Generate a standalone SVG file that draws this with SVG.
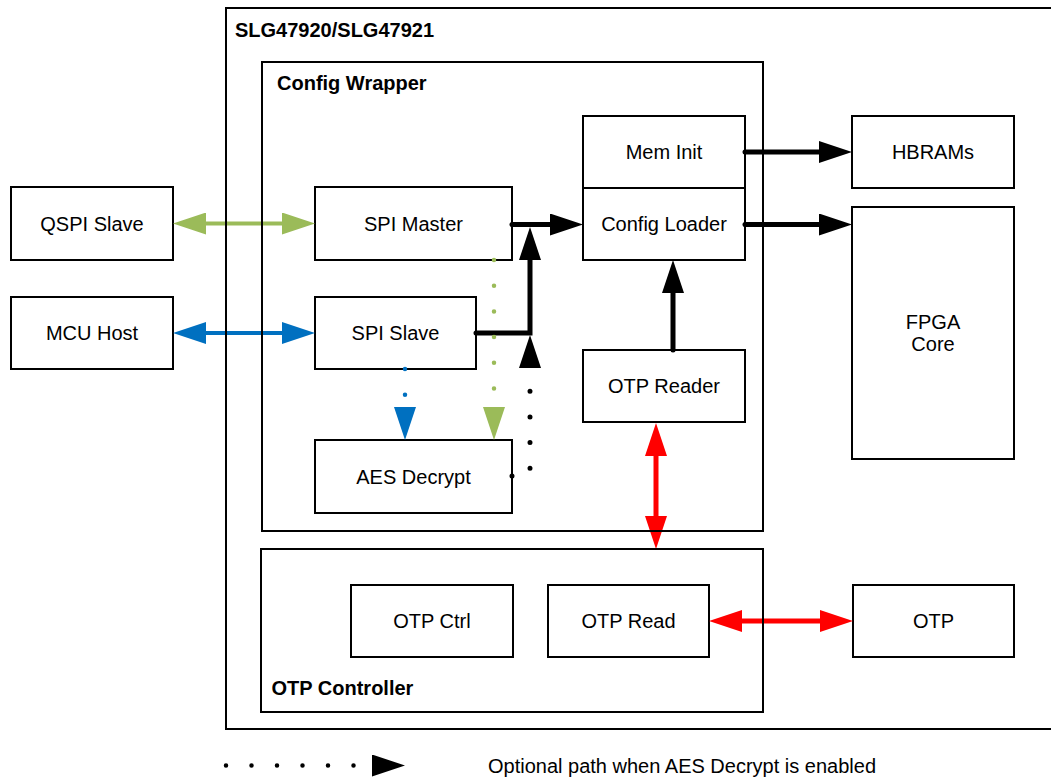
<svg xmlns="http://www.w3.org/2000/svg" width="1051" height="778" viewBox="0 0 1051 778">
<style>
.box{fill:#fff;stroke:#000;stroke-width:2}
.frame{fill:none;stroke:#000;stroke-width:2}
.t{font-family:"Liberation Sans",Arial,sans-serif;font-size:20px;fill:#000;text-anchor:middle}
.b{font-family:"Liberation Sans",Arial,sans-serif;font-size:20px;font-weight:bold;fill:#000}
.lt{font-family:"Liberation Sans",Arial,sans-serif;font-size:20px;fill:#000}
.k{fill:none;stroke:#000;stroke-width:5;stroke-linecap:round;stroke-linejoin:miter}
.kd{fill:none;stroke:#000;stroke-width:5;stroke-linecap:round;stroke-dasharray:0 25.7}
.g{fill:none;stroke:#9BBB59;stroke-width:4}
.gd{fill:none;stroke:#9BBB59;stroke-width:4.5;stroke-linecap:round;stroke-dasharray:0 25.7}
.u{fill:none;stroke:#0070C0;stroke-width:4}
.ud{fill:none;stroke:#0070C0;stroke-width:4.5;stroke-linecap:round;stroke-dasharray:0 25.7}
.r{fill:none;stroke:#FF0000;stroke-width:5}
</style>
<defs>
<marker id="ak" markerUnits="userSpaceOnUse" viewBox="0 0 33 22" markerWidth="33" markerHeight="22" refX="5" refY="11" orient="auto-start-reverse"><path d="M0,0 L33,11 L0,22 Z" fill="#000"/></marker>
<marker id="ag" markerUnits="userSpaceOnUse" viewBox="0 0 33 22" markerWidth="33" markerHeight="22" refX="5" refY="11" orient="auto-start-reverse"><path d="M0,0 L33,11 L0,22 Z" fill="#9BBB59"/></marker>
<marker id="au" markerUnits="userSpaceOnUse" viewBox="0 0 33 22" markerWidth="33" markerHeight="22" refX="5" refY="11" orient="auto-start-reverse"><path d="M0,0 L33,11 L0,22 Z" fill="#0070C0"/></marker>
<marker id="ar" markerUnits="userSpaceOnUse" viewBox="0 0 33 22" markerWidth="33" markerHeight="22" refX="5" refY="11" orient="auto-start-reverse"><path d="M0,0 L33,11 L0,22 Z" fill="#FF0000"/></marker>
</defs>
<rect width="1051" height="778" fill="#fff"/>

<g id="qspi-slave"><rect class="box" x="11" y="187" width="162" height="73"/><text class="t" x="92" y="230.5">QSPI Slave</text></g>
<g id="mcu-host"><rect class="box" x="11" y="297" width="162" height="72"/><text class="t" x="92" y="340">MCU Host</text></g>
<g id="spi-master"><rect class="box" x="315" y="187" width="197" height="73"/><text class="t" x="413.5" y="230.5">SPI Master</text></g>
<g id="spi-slave"><rect class="box" x="315" y="297" width="161" height="72"/><text class="t" x="395.5" y="340">SPI Slave</text></g>
<g id="aes-decrypt"><rect class="box" x="315" y="440" width="197" height="73"/><text class="t" x="413.5" y="483.5">AES Decrypt</text></g>
<g id="mem-init"><rect class="box" x="583" y="116" width="162" height="72"/><text class="t" x="664" y="158.5">Mem Init</text></g>
<g id="config-loader"><rect class="box" x="583" y="188" width="162" height="72"/><text class="t" x="664" y="230.5">Config Loader</text></g>
<g id="otp-reader"><rect class="box" x="583" y="350" width="162" height="72"/><text class="t" x="664" y="393">OTP Reader</text></g>
<g id="hbrams"><rect class="box" x="852" y="116" width="162" height="72"/><text class="t" x="933" y="158.5">HBRAMs</text></g>
<g id="fpga-core"><rect class="box" x="852" y="207" width="162" height="252"/><text class="t" x="933" y="328.5">FPGA</text><text class="t" x="933" y="350.5">Core</text></g>
<g id="otp-ctrl"><rect class="box" x="351" y="585" width="162" height="72"/><text class="t" x="432" y="628">OTP Ctrl</text></g>
<g id="otp-read"><rect class="box" x="548" y="585" width="161" height="72"/><text class="t" x="628.5" y="628">OTP Read</text></g>
<g id="otp"><rect class="box" x="853" y="585" width="161" height="72"/><text class="t" x="933.5" y="628">OTP</text></g>

<g id="connectors">
<path class="g" d="M201,223.5 H287" marker-start="url(#ag)" marker-end="url(#ag)"/>
<path class="u" d="M201,333 H287" marker-start="url(#au)" marker-end="url(#au)"/>
<path class="k" d="M512,224.5 H555" marker-end="url(#ak)"/>
<path class="k" d="M476,333 H530 V255" marker-end="url(#ak)"/>
<path class="kd" d="M512,476 H530 V363" marker-end="url(#ak)"/>
<path class="gd" d="M494,260 V412" marker-end="url(#ag)"/>
<path class="ud" d="M405,369 V412" marker-end="url(#au)"/>
<path class="k" d="M745,152 H824" marker-end="url(#ak)"/>
<path class="k" d="M745,224.5 H824" marker-end="url(#ak)"/>
<path class="k" d="M673,350 V288" marker-end="url(#ak)"/>
<path class="r" d="M656,451 V521" marker-start="url(#ar)" marker-end="url(#ar)"/>
<path class="r" d="M737,621 H825" marker-start="url(#ar)" marker-end="url(#ar)"/>
</g>

<g id="device"><rect class="frame" x="226" y="8" width="840" height="721"/><text class="b" x="235" y="36.5">SLG47920/SLG47921</text></g>
<g id="config-wrapper"><rect class="frame" x="262" y="62" width="501" height="469"/><text class="b" x="277" y="90">Config Wrapper</text></g>
<g id="otp-controller"><rect class="frame" x="261" y="549" width="502" height="163"/><text class="b" x="271.5" y="695">OTP Controller</text></g>

<g id="legend">
<path d="M226,765.5 H377" fill="none" stroke="#000" stroke-width="4.5" stroke-linecap="round" stroke-dasharray="0 25.5" marker-end="url(#ak)"/>
<text class="lt" x="488" y="773">Optional path when AES Decrypt is enabled</text>
</g>
</svg>
